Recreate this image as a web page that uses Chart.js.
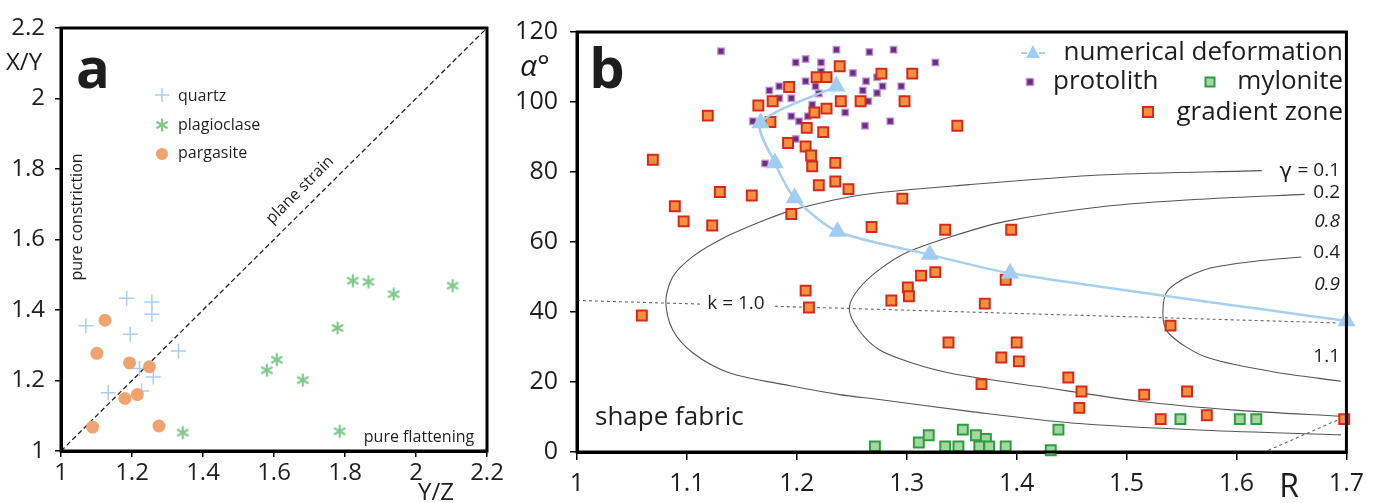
<!DOCTYPE html>
<html>
<head>
<meta charset="utf-8">
<script src="https://cdn.jsdelivr.net/npm/chart.js@4.4.1/dist/chart.umd.min.js"></script>
<style>
  html, body { margin: 0; padding: 0; background: #fff; }
  #wrap { position: relative; width: 1373px; height: 503px; overflow: hidden; }
  canvas { position: absolute; top: 0; }
  #chartA { left: 0; }
  #chartB { left: 515px; }
</style>
</head>
<body>
<div id="wrap">
  <canvas id="chartA" width="530" height="503"></canvas>
  <canvas id="chartB" width="858" height="503"></canvas>
</div>
<script>
// ---- panel a data (Y/Z vs X/Y) ----
const quartzX = [1.070, 1.185, 1.256, 1.256, 1.195, 1.331, 1.221, 1.260, 1.133, 1.227];
const quartzY = [1.355, 1.433, 1.423, 1.388, 1.331, 1.284, 1.234, 1.210, 1.165, 1.170];
const plagX = [1.822, 1.866, 1.937, 2.103, 1.779, 1.608, 1.580, 1.681, 1.343, 1.785];
const plagY = [1.483, 1.480, 1.445, 1.469, 1.349, 1.259, 1.229, 1.201, 1.052, 1.056];
const pargX = [1.124, 1.101, 1.193, 1.249, 1.180, 1.215, 1.089, 1.276];
const pargY = [1.371, 1.277, 1.250, 1.239, 1.149, 1.160, 1.068, 1.071];
const planeStrainX = [1, 2.2];
const planeStrainY = [1, 2.2];
const ticksA = [1, 1.2, 1.4, 1.6, 1.8, 2, 2.2];

// ---- panel b data (R vs alpha) ----
const gradR = [1.069, 1.119, 1.089, 1.097, 1.123, 1.130, 1.159, 1.165, 1.178, 1.176, 1.193, 1.192, 1.195,
  1.208, 1.209, 1.213, 1.214, 1.216, 1.218, 1.227, 1.227, 1.224, 1.220, 1.235, 1.235, 1.247, 1.239,
  1.240, 1.258, 1.277, 1.298, 1.305, 1.296, 1.268, 1.346, 1.335, 1.395, 1.059, 1.208, 1.211, 1.286,
  1.301, 1.302, 1.313, 1.326, 1.371, 1.390, 1.338, 1.400, 1.386, 1.402, 1.368, 1.447, 1.459, 1.457,
  1.540, 1.516, 1.555, 1.531, 1.573, 1.698];
const gradA = [83.5, 96.1, 70.2, 65.9, 64.7, 74.3, 73.3, 99.0, 100.2, 94.3, 104.3, 88.3, 68.0,
  87.3, 92.6, 84.7, 81.6, 97.0, 107.1, 107.1, 98.1, 91.4, 76.2, 82.6, 77.3, 75.1, 110.2,
  100.2, 100.2, 108.1, 100.2, 108.1, 72.4, 64.3, 93.2, 63.5, 63.5, 39.0, 46.1, 41.3, 43.3,
  47.0, 44.5, 50.4, 51.4, 42.4, 49.2, 31.3, 31.3, 27.0, 25.9, 19.4, 21.3, 17.3, 12.6,
  36.1, 16.4, 17.3, 9.4, 10.5, 9.4];
const protoR = [1.131, 1.199, 1.208, 1.222, 1.236, 1.266, 1.288, 1.326, 1.251, 1.263, 1.273, 1.278,
  1.295, 1.260, 1.273, 1.265, 1.175, 1.184, 1.184, 1.195, 1.208, 1.217, 1.220, 1.244, 1.195, 1.202,
  1.210, 1.214, 1.262, 1.285, 1.199, 1.171, 1.160, 1.222];
const protoA = [114.5, 111.3, 112.3, 111.3, 114.9, 114.3, 114.9, 111.3, 108.3, 105.9, 107.1, 104.5,
  104.5, 103.3, 102.6, 100.2, 103.3, 104.5, 101.1, 101.1, 105.9, 104.5, 102.4, 97.0, 95.9, 94.5,
  95.9, 99.2, 93.2, 94.5, 89.4, 82.4, 94.5, 108.7];
const myloR = [1.271, 1.311, 1.320, 1.335, 1.347, 1.351, 1.363, 1.372, 1.366, 1.375, 1.390, 1.431,
  1.438, 1.549, 1.603, 1.618];
const myloA = [1.6, 2.7, 4.8, 1.6, 1.6, 6.4, 4.8, 3.7, 1.6, 1.6, 1.6, 0.5, 6.4, 9.4, 9.4, 9.4];
const numR = [1.236, 1.167, 1.180, 1.198, 1.237, 1.321, 1.394, 1.700];
const numA = [104.5, 94.0, 82.6, 72.6, 63.0, 56.4, 51.1, 37.4];
// gamma contours, upper branch -> vertex -> lower branch
const g01R = [1.623, 1.481, 1.357, 1.260, 1.199, 1.172, 1.133, 1.1055, 1.0874, 1.0808, 1.087, 1.1055,
  1.139, 1.193, 1.239, 1.275, 1.357, 1.450, 1.571, 1.695];
const g01A = [80.4, 79.2, 76.4, 73.5, 69.4, 66.4, 61.1, 55.9, 50.2, 43.0, 34.9, 28.3,
  22.6, 19.0, 16.4, 15.0, 11.6, 8.3, 6.2, 4.9];
const g02R = [1.662, 1.571, 1.481, 1.390, 1.340, 1.300, 1.275, 1.256, 1.2477, 1.256, 1.275, 1.305,
  1.340, 1.420, 1.511, 1.602, 1.695];
const g02A = [73.6, 72.3, 70.2, 65.9, 61.5, 57.0, 52.1, 46.5, 41.1, 35.0, 29.2, 25.4,
  22.5, 18.7, 14.5, 11.9, 10.2];
const g04R = [1.659, 1.617, 1.571, 1.538, 1.533, 1.538, 1.571, 1.632, 1.695];
const g04A = [55.7, 54.5, 52.1, 46.4, 39.7, 34.0, 27.3, 23.0, 20.2];
const kLeftR = [1.0, 1.113];
const kLeftA = [43.3, 42.25];
const kRightR = [1.18, 1.69];
const kRightA = [41.63, 36.9];
const cornerR = [1.629, 1.696];
const cornerA = [0.5, 9.7];
const ticksBx = [1, 1.1, 1.2, 1.3, 1.4, 1.5, 1.6, 1.7];
const ticksBy = [0, 20, 40, 60, 80, 100, 120];

Chart.defaults.font.family = '"Open Sans", "Noto Sans", sans-serif';
Chart.defaults.color = '#1e1e1e';

const pts = (xs, ys) => xs.map((x, i) => ({ x: x, y: ys[i] }));

function txt(ctx, s, x, y, font, align, base, rot) {
    ctx.save();
    ctx.translate(x, y);
    if (rot) ctx.rotate(rot);
    ctx.font = font;
    ctx.fillStyle = '#1e1e1e';
    ctx.textAlign = align || 'left';
    ctx.textBaseline = base || 'alphabetic';
    ctx.fillText(s, 0, 0);
    ctx.restore();
}

function sq(ctx, x, y, side, fill, stroke, lw) {
    ctx.fillStyle = fill;
    ctx.fillRect(x - side / 2, y - side / 2, side, side);
    if (stroke) {
        ctx.strokeStyle = stroke;
        ctx.lineWidth = lw;
        ctx.strokeRect(x - side / 2, y - side / 2, side, side);
    }
}

// six-armed asterisk used for plagioclase
function asterisk(ctx, cx, cy, r) {
    ctx.beginPath();
    for (let k = 0; k < 3; k++) {
        const ang = Math.PI / 2 + k * Math.PI / 3;
        ctx.moveTo(cx + r * Math.cos(ang), cy + r * Math.sin(ang));
        ctx.lineTo(cx - r * Math.cos(ang), cy - r * Math.sin(ang));
    }
    ctx.stroke();
}
const starImg = document.createElement('canvas');
starImg.width = 16; starImg.height = 16;
(function () {
    const c = starImg.getContext('2d');
    c.strokeStyle = '#80c98d';
    c.lineWidth = 2.2;
    asterisk(c, 8, 8, 6.5);
})();

function axis(min, max, tickVals, size, pad, tickLen, fit) {
    return {
        type: 'linear', min: min, max: max,
        afterBuildTicks: s => { s.ticks = tickVals.map(v => ({ value: v })); },
        afterFit: fit,
        ticks: { autoSkip: false, maxRotation: 0, padding: pad, font: { size: size }, color: '#1e1e1e',
                 callback: v => String(v) },
        grid: { drawOnChartArea: false, tickLength: tickLen, color: '#000', lineWidth: 1.5 },
        border: { color: '#000', width: 3 }
    };
}

const frame = {
    id: 'frame',
    afterDatasetsDraw(chart) {
        const a = chart.chartArea, ctx = chart.ctx;
        ctx.save();
        ctx.strokeStyle = '#000';
        ctx.lineWidth = 3;
        ctx.strokeRect(a.left, a.top, a.right - a.left, a.bottom - a.top);
        ctx.restore();
    }
};

// Panel a
const textA = {
    id: 'textA',
    afterDraw(chart) {
        const ctx = chart.ctx;
        txt(ctx, 'a', 93, 88, 'bold 56px "Open Sans"', 'center');
        txt(ctx, 'X/Y', 6, 70, '24px "Open Sans"');
        txt(ctx, 'Y/Z', 418, 500, '24px "Open Sans"');
        txt(ctx, 'pure constriction', 77, 217, '16px "Open Sans"', 'center', 'middle', -Math.PI / 2);
        txt(ctx, 'plane strain', 300, 190, '16px "Open Sans"', 'center', 'middle', -Math.PI / 4);
        txt(ctx, 'pure flattening', 419, 437, '16px "Open Sans"', 'center', 'middle');
        // legend
        ctx.save();
        ctx.strokeStyle = '#a9cdef'; ctx.lineWidth = 1.5;
        ctx.beginPath(); ctx.moveTo(155, 95); ctx.lineTo(169, 95); ctx.moveTo(162, 88); ctx.lineTo(162, 102); ctx.stroke();
        ctx.strokeStyle = '#80c98d'; ctx.lineWidth = 2.2;
        asterisk(ctx, 162, 125, 6.5);
        ctx.fillStyle = '#f0a36f';
        ctx.beginPath(); ctx.arc(162, 154, 6, 0, Math.PI * 2); ctx.fill();
        ctx.restore();
        txt(ctx, 'quartz', 178, 96, '16px "Open Sans"', 'left', 'middle');
        txt(ctx, 'plagioclase', 178, 125, '16px "Open Sans"', 'left', 'middle');
        txt(ctx, 'pargasite', 178, 153, '16px "Open Sans"', 'left', 'middle');
    }
};

new Chart(document.getElementById('chartA'), {
    type: 'scatter',
    data: {
        datasets: [
            { label: 'pargasite', data: pts(pargX, pargY), pointStyle: 'circle', pointRadius: 6.5,
              backgroundColor: '#f0a36f', borderColor: '#f0a36f', borderWidth: 0 },
            { label: 'plagioclase', data: pts(plagX, plagY), pointStyle: starImg, pointRadius: 8 },
            { label: 'quartz', data: pts(quartzX, quartzY), pointStyle: 'cross', pointRadius: 7.5,
              borderColor: '#a9cdef', borderWidth: 1.5 },
            { label: 'plane strain', data: pts(planeStrainX, planeStrainY), showLine: true, pointRadius: 0,
              borderColor: '#222', borderWidth: 1.3, borderDash: [5, 3] }
        ]
    },
    options: {
        responsive: false,
        animation: false,
        layout: { padding: { left: 0, top: 28, right: 43, bottom: 0 } },
        plugins: { legend: { display: false }, tooltip: { enabled: false } },
        scales: {
            x: axis(1, 2.2, ticksA, 24, 2, 6, s => { s.height = 52; }),
            y: axis(1, 2.2, ticksA, 24, 10, 6, s => { s.width = 61; })
        }
    },
    plugins: [frame, textA]
});

// Panel b
const OX = 515;
const textB = {
    id: 'textB',
    afterDraw(chart) {
        const ctx = chart.ctx;
        txt(ctx, 'b', 607 - OX, 88, 'bold 56px "Open Sans"', 'center');
        txt(ctx, 'α°', 520 - OX, 76, 'italic 30px "Open Sans"');
        txt(ctx, 'shape fabric', 595 - OX, 425, '26px "Open Sans"');
        txt(ctx, 'R', 1289 - OX, 497, '32px "Open Sans"', 'center');
        txt(ctx, 'k = 1.0', 736 - OX, 304, '19px "Open Sans"', 'center', 'middle');
        txt(ctx, 'γ', 1292 - OX, 173, '21px "DejaVu Sans"', 'right', 'middle');
        txt(ctx, '= 0.1', 1340 - OX, 171, '19px "Open Sans"', 'right', 'middle');
        txt(ctx, '0.2', 1340 - OX, 193, '19px "Open Sans"', 'right', 'middle');
        txt(ctx, '0.8', 1340 - OX, 222, 'italic 19px "Open Sans"', 'right', 'middle');
        txt(ctx, '0.4', 1340 - OX, 253, '19px "Open Sans"', 'right', 'middle');
        txt(ctx, '0.9', 1340 - OX, 285, 'italic 19px "Open Sans"', 'right', 'middle');
        txt(ctx, '1.1', 1340 - OX, 357, '19px "Open Sans"', 'right', 'middle');
        // legend
        txt(ctx, 'numerical deformation', 1343 - OX, 60, '26px "Open Sans"', 'right');
        txt(ctx, 'protolith', 1053 - OX, 89, '26px "Open Sans"');
        txt(ctx, 'mylonite', 1343 - OX, 89, '26px "Open Sans"', 'right');
        txt(ctx, 'gradient zone', 1343 - OX, 120, '26px "Open Sans"', 'right');
        ctx.save();
        ctx.strokeStyle = '#a7cff0'; ctx.lineWidth = 2;
        ctx.beginPath();
        ctx.moveTo(1021 - OX, 53); ctx.lineTo(1027 - OX, 53);
        ctx.moveTo(1039 - OX, 53); ctx.lineTo(1045 - OX, 53);
        ctx.stroke();
        ctx.fillStyle = '#a2cdf1';
        ctx.beginPath(); ctx.moveTo(1033 - OX, 45); ctx.lineTo(1040 - OX, 58); ctx.lineTo(1026 - OX, 58); ctx.closePath(); ctx.fill();
        sq(ctx, 1030 - OX, 82, 7, '#6d2c84', 'rgba(190,150,212,0.8)', 1.5);
        sq(ctx, 1210 - OX, 82, 9, '#a3d7a0', '#2f9c40', 2);
        sq(ctx, 1148 - OX, 112, 10, '#f5903e', '#d32a1c', 2);
        ctx.restore();
    }
};

const curve = (xs, ys) => ({ data: pts(xs, ys), showLine: true, pointRadius: 0, tension: 0.3,
    borderColor: '#555', borderWidth: 1.1 });
const dotted = (xs, ys) => ({ data: pts(xs, ys), showLine: true, pointRadius: 0,
    borderColor: '#666', borderWidth: 1.1, borderDash: [3, 3] });

new Chart(document.getElementById('chartB'), {
    type: 'scatter',
    data: {
        datasets: [
            { label: 'numerical deformation', data: pts(numR, numA), showLine: true, tension: 0.25,
              borderColor: '#a7cff0', borderWidth: 2.5, pointStyle: 'triangle', pointRadius: 8,
              pointBackgroundColor: '#a2cdf1', pointBorderColor: '#a2cdf1', clip: false },
            { label: 'gradient zone', data: pts(gradR, gradA), pointStyle: 'rect', pointRadius: 7,
              backgroundColor: '#f5903e', borderColor: '#d32a1c', borderWidth: 2, clip: false },
            { label: 'mylonite', data: pts(myloR, myloA), pointStyle: 'rect', pointRadius: 7,
              backgroundColor: '#a3d7a0', borderColor: '#2f9c40', borderWidth: 2, clip: false },
            { label: 'protolith', data: pts(protoR, protoA), pointStyle: 'rect', pointRadius: 4.6,
              backgroundColor: '#6d2c84', borderColor: 'rgba(190,150,212,0.8)', borderWidth: 1.5 },
            curve(g01R, g01A),
            curve(g02R, g02A),
            curve(g04R, g04A),
            dotted(kLeftR, kLeftA),
            dotted(kRightR, kRightA),
            dotted(cornerR, cornerA)
        ]
    },
    options: {
        responsive: false,
        animation: false,
        layout: { padding: { left: 0, top: 32, right: 25, bottom: 0 } },
        plugins: { legend: { display: false }, tooltip: { enabled: false } },
        scales: {
            x: axis(1, 1.7, ticksBx, 25, 9, 8, s => { s.height = 51; }),
            y: axis(0, 120, ticksBy, 25, 12, 7, s => { s.width = 62; })
        }
    },
    plugins: [frame, textB]
});
</script>
</body>
</html>
